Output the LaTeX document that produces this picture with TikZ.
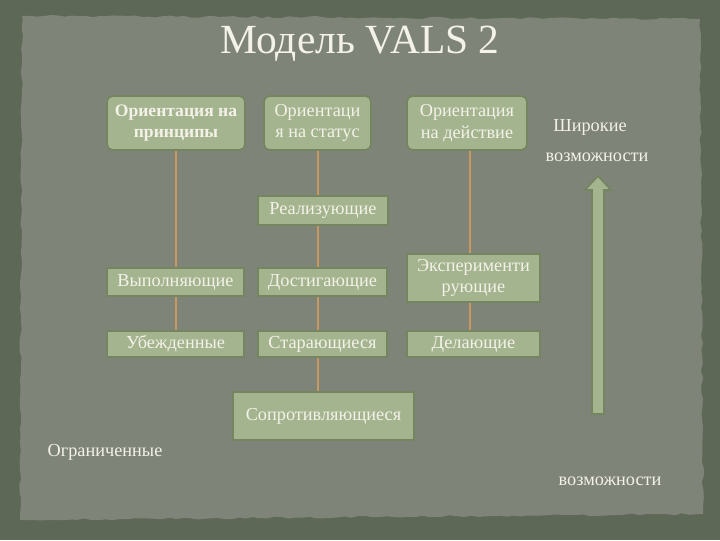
\documentclass[tikz,border=0pt]{standalone}
\usepackage{fontspec}
\setmainfont{Liberation Serif}
\usetikzlibrary{decorations.pathmorphing}
\definecolor{bgdark}{HTML}{5E6856}
\definecolor{bgpaper}{HTML}{7E8477}
\definecolor{boxfill}{HTML}{A3B48E}
\definecolor{boxline}{HTML}{74855F}
\definecolor{linkline}{HTML}{C99860}
\definecolor{txt}{HTML}{F4F2E8}
\tikzset{stage/.style={draw=boxline, line width=1.2pt, fill=boxfill, text=txt,
           align=center, inner sep=0pt, font=\fontsize{13}{15.5}\selectfont},
         orient/.style={stage, rounded corners=4pt, minimum height=1.35cm},
         link/.style={draw=linkline, line width=1.2pt},
         note/.style={text=txt, font=\fontsize{13}{15.5}\selectfont}}

\begin{document}
\begin{tikzpicture}[x=0.025cm, y=-0.025cm]
\useasboundingbox (0,0) rectangle (720,540);
% paper
\fill[bgdark] (0,0) rectangle (720,540);
\pgfmathsetseed{7}
\fill[bgpaper, decorate, decoration={random steps, segment length=5pt, amplitude=0.8pt}]
  (22,16) -- (700,19) -- (703,514) -- (20,520) -- cycle;
\node[text=txt, font=\fontsize{29.5}{34}\selectfont] (title) at (360,44) {Модель VALS 2};
% orientations
\node[orient, minimum width=3.45cm, font=\fontsize{12.5}{15}\selectfont\bfseries] (princ) at (176,123) {Ориентация на\\принципы};
\node[orient, minimum width=2.675cm] (status) at (317.5,123) {Ориентаци\\я на статус};
\node[orient, minimum width=3cm] (action) at (467,123) {Ориентация\\на действие};
% types
\node[stage, minimum width=3.25cm, minimum height=0.725cm] (real) at (323,210.5) {Реализующие};
\node[stage, minimum width=3.425cm, minimum height=0.7cm] (vyp) at (175.5,282) {Выполняющие};
\node[stage, minimum width=3.225cm, minimum height=0.7cm] (dost) at (322.5,282) {Достигающие};
\node[stage, minimum width=3.325cm, minimum height=1.2cm] (exper) at (473.5,278) {Эксперименти\\рующие};
\node[stage, minimum width=3.425cm, minimum height=0.65cm] (ube) at (175.5,344) {Убежденные};
\node[stage, minimum width=3.225cm, minimum height=0.65cm] (star) at (322.5,344) {Старающиеся};
\node[stage, minimum width=3.325cm, minimum height=0.65cm] (del) at (473.5,344) {Делающие};
\node[stage, minimum width=4.525cm, minimum height=1.2cm] (sopr) at (323.5,416) {Сопротивляющиеся};
% links
\draw[link] (princ.south -| 176,0) -- (vyp.north -| 176,0);
\draw[link] (vyp.south -| 176,0) -- (ube.north -| 176,0);
\draw[link] (status.south -| 318,0) -- (real.north -| 318,0);
\draw[link] (real.south -| 318,0) -- (dost.north -| 318,0);
\draw[link] (dost.south -| 318,0) -- (star.north -| 318,0);
\draw[link] (star.south -| 318,0) -- (sopr.north -| 318,0);
\draw[link] (action.south -| 470,0) -- (exper.north -| 470,0);
\draw[link] (exper.south -| 470,0) -- (del.north -| 470,0);
% scale arrow
\filldraw[fill=boxfill, draw=boxline, line width=1.2pt]
  (592,414) -- (592,190) -- (585,190) -- (598,176) -- (611,190) -- (604,190) -- (604,414) -- cycle;
\node[note] (wide1) at (590,127) {Широкие};
\node[note] (wide2) at (597,157) {возможности};
\node[note] (lim1) at (105,452) {Ограниченные};
\node[note] (lim2) at (610,481) {возможности};
\end{tikzpicture}
\end{document}
